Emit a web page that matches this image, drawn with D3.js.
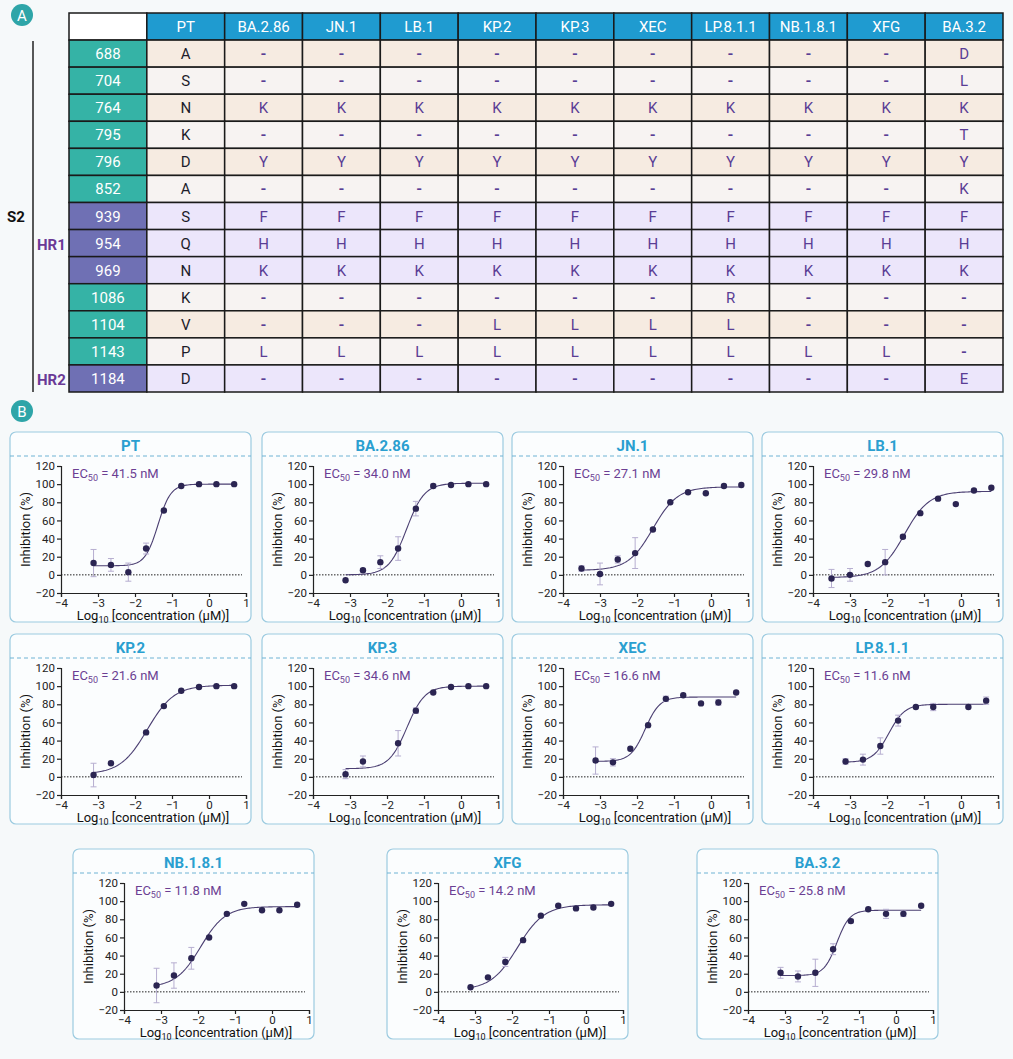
<!DOCTYPE html>
<html><head><meta charset="utf-8">
<script src="https://cdn.jsdelivr.net/npm/d3@7"></script>
<style>body{margin:0;background:#f6f9fa;font-family:Roboto,"Noto Sans",sans-serif}</style>
</head><body><svg id="fig" width="1013" height="1059"></svg>
<script>
// table data
const variants = ['PT','BA.2.86','JN.1','LB.1','KP.2','KP.3','XEC','LP.8.1.1','NB.1.8.1','XFG','BA.3.2'];
const positions = ['688','704','764','795','796','852','939','954','969','1086','1104','1143','1184'];
const hrRows = ['939','954','969','1184'];
const residues = [
  ['A','-','-','-','-','-','-','-','-','-','D'],
  ['S','-','-','-','-','-','-','-','-','-','L'],
  ['N','K','K','K','K','K','K','K','K','K','K'],
  ['K','-','-','-','-','-','-','-','-','-','T'],
  ['D','Y','Y','Y','Y','Y','Y','Y','Y','Y','Y'],
  ['A','-','-','-','-','-','-','-','-','-','K'],
  ['S','F','F','F','F','F','F','F','F','F','F'],
  ['Q','H','H','H','H','H','H','H','H','H','H'],
  ['N','K','K','K','K','K','K','K','K','K','K'],
  ['K','-','-','-','-','-','-','R','-','-','-'],
  ['V','-','-','-','L','L','L','L','-','-','-'],
  ['P','L','L','L','L','L','L','L','L','L','-'],
  ['D','-','-','-','-','-','-','-','-','-','E']
];

// inhibition data
const xStd = [-3.12,-2.65,-2.18,-1.7,-1.22,-0.75,-0.27,0.2,0.68];
const xLong = [-3.5,-3.0,-2.52,-2.05,-1.57,-1.1,-0.62,-0.14,0.35,0.82];
const xNo3 = [-3.12,-2.65,-1.7,-1.22,-0.75,-0.27,0.2,0.68];
const xLP = [-3.12,-2.65,-2.18,-1.7,-1.22,-0.75,0.2,0.68];
const panelNames = ['PT','BA.2.86','JN.1','LB.1','KP.2','KP.3','XEC','LP.8.1.1','NB.1.8.1','XFG','BA.3.2'];
const ec50Labels = ['41.5','34.0','27.1','29.8','21.6','34.6','16.6','11.6','11.8','14.2','25.8'];
const panelX = [xStd,xStd,xLong,xLong,xNo3,xNo3,xStd,xLP,xStd,xStd,xStd];
const panelY = [
  [13,11,3,29,71,98,100,100,100],
  [-6,5,14,29,73,98,99,100,100],
  [7,1,17,24,50,80,91,90,98,99],
  [-4,0,12,14,42,68,84,78,93,96],
  [2,15,49,78,95,99,100,100],
  [3,17,37,73,93,99,100,100],
  [18,16,31,57,86,90,81,82,93],
  [17,19,34,62,77,77,77,84],
  [7,18,37,60,86,97,90,90,96],
  [5,16,33,57,84,95,92,93,97],
  [21,17,21,47,78,91,86,86,95]
];
const panelErr = [
  [15,7,10,6,0,0,0,0,0],
  [0,2,7,13,8,2,1,0,0],
  [3,12,4,17,0,0,0,0,0,0],
  [10,7,0,14,2,0,0,0,0,0],
  [13,0,0,0,0,0,0,0],
  [5,6,14,3,0,0,0,0],
  [15,4,0,0,3,0,0,3,0],
  [3,6,9,6,0,4,0,4],
  [19,14,12,0,0,0,0,0,0],
  [0,0,5,0,0,0,0,0,0],
  [6,6,15,6,2,0,5,3,0]
];
// 4PL fit parameters: bottom, top, logEC50, hill
const fitBottom = [10,0,5,-3,3,9,17,16,5,2,18];
const fitTop = [100,101,97,92,101,100,88,80,94,96,90];
const fitLogEC = [-1.38,-1.47,-1.57,-1.53,-1.67,-1.46,-1.78,-1.95,-1.93,-1.85,-1.6];
const fitHill = [2.5,1.8,1.3,1.3,1.2,1.8,2.2,2.0,1.3,1.2,2.5];

const svg = d3.select('#fig');
const dark = '#1d1d2b', purple = '#5a3d95';

// ---- panel A: table
const tx = d3.scaleBand().domain(d3.range(12)).range([69,1003]);
const ty = d3.scaleBand().domain(d3.range(14)).range([13,392]);
const tg = svg.append('g');
for (let r = 0; r < 14; r++) {
  for (let c = 0; c < 12; c++) {
    let fill, txt = '', col = dark;
    if (r === 0) {
      fill = c === 0 ? '#ffffff' : '#1f9bd0';
      txt = c === 0 ? '' : variants[c-1]; col = '#fff';
    } else {
      const pos = positions[r-1], hr = hrRows.includes(pos);
      if (c === 0) { fill = hr ? '#6f70b4' : '#35b3a6'; txt = pos; col = '#fff'; }
      else {
        fill = hr ? '#ece6fb' : (r % 2 ? '#f6ebe1' : '#f7f3f2');
        txt = residues[r-1][c-1];
        col = c === 1 ? dark : purple;
      }
    }
    tg.append('rect').attr('x', tx(c)).attr('y', ty(r)).attr('width', tx.bandwidth()).attr('height', ty.bandwidth())
      .attr('fill', fill).attr('stroke', '#1a1a1a').attr('stroke-width', 1.5);
    tg.append('text').attr('x', tx(c) + tx.bandwidth()/2).attr('y', ty(r) + ty.bandwidth()/2 + 5.5)
      .attr('text-anchor', 'middle').attr('font-size', 15).attr('fill', col)
      .attr('font-weight', (r > 0 && c > 1 && txt === '-') ? 700 : 400).text(txt);
  }
}
function badge(x, y, t) {
  svg.append('circle').attr('cx', x).attr('cy', y).attr('r', 11).attr('fill', '#2ea5a8');
  svg.append('text').attr('x', x).attr('y', y + 5.5).attr('text-anchor', 'middle').attr('fill', '#fff').attr('font-size', 15).text(t);
}
badge(22, 15, 'A');
svg.append('line').attr('x1', 33).attr('x2', 33).attr('y1', 41).attr('y2', 392).attr('stroke', '#222').attr('stroke-width', 1.5);
svg.append('text').attr('x', 7).attr('y', 222).attr('font-size', 15).attr('font-weight', 700).attr('fill', '#111').text('S2');
svg.append('text').attr('x', 37).attr('y', 250).attr('font-size', 15).attr('font-weight', 700).attr('fill', '#6a3a96').text('HR1');
svg.append('text').attr('x', 37).attr('y', 385).attr('font-size', 15).attr('font-weight', 700).attr('fill', '#6a3a96').text('HR2');

// ---- panel B: curves
badge(22, 411, 'B');
const panelPos = [[10,432],[262,432],[512,432],[762,432],[10,634],[262,634],[512,634],[762,634],[73,849],[387,849],[697,849]];
const PW = 241, PH = 190;
panelNames.forEach((name, i) => {
  const g = svg.append('g').attr('transform', `translate(${panelPos[i][0]},${panelPos[i][1]})`);
  g.append('rect').attr('width', PW).attr('height', PH).attr('rx', 6).attr('fill', '#fbfdfe').attr('stroke', '#9ccbe0').attr('stroke-width', 1.2);
  g.append('text').attr('x', PW/2).attr('y', 19).attr('text-anchor', 'middle').attr('font-size', 15).attr('font-weight', 700).attr('fill', '#2a9fd0').text(name);
  g.append('line').attr('x1', 0).attr('x2', PW).attr('y1', 24).attr('y2', 24).attr('stroke', '#6fb3d4').attr('stroke-dasharray', '4,3');
  const x = d3.scaleLinear().domain([-4, 1]).range([51, 236]);
  const y = d3.scaleLinear().domain([-20, 120]).range([161, 34]);
  g.append('g').attr('transform', 'translate(0,161)').call(d3.axisBottom(x).ticks(5).tickSize(4).tickPadding(2).tickFormat(d3.format('d')))
    .call(a => a.selectAll('text').attr('font-size', 11.5).attr('fill', '#222').attr('font-family', 'Roboto'));
  g.append('g').attr('transform', 'translate(51,0)').call(d3.axisLeft(y).tickValues(d3.range(-20, 121, 20)).tickSize(4).tickPadding(2))
    .call(a => a.selectAll('text').attr('font-size', 11.5).attr('fill', '#222').attr('font-family', 'Roboto'));
  g.selectAll('.domain,.tick line').attr('stroke', '#222').attr('stroke-width', 1.2);
  g.append('line').attr('x1', 51).attr('x2', 232).attr('y1', y(0)).attr('y2', y(0)).attr('stroke', '#222').attr('stroke-dasharray', '1.5,1.5');
  const xl = g.append('text').attr('x', 143).attr('y', 188).attr('text-anchor', 'middle').attr('font-size', 13).attr('fill', '#111');
  xl.append('tspan').text('Log');
  xl.append('tspan').attr('font-size', 9).attr('dy', 3).text('10');
  xl.append('tspan').attr('dy', -3).text(' [concentration (µM)]');
  g.append('text').attr('transform', `translate(20,${y(50)}) rotate(-90)`).attr('text-anchor', 'middle').attr('font-size', 13).attr('fill', '#111').text('Inhibition (%)');
  const et = g.append('text').attr('x', 62).attr('y', 46).attr('font-size', 13).attr('fill', '#6b3f93');
  et.append('tspan').text('EC');
  et.append('tspan').attr('font-size', 9).attr('dy', 3).text('50');
  et.append('tspan').attr('dy', -3).text(` = ${ec50Labels[i]} nM`);
  // fitted curve
  const xs = panelX[i];
  const f = v => fitBottom[i] + (fitTop[i] - fitBottom[i]) / (1 + Math.pow(10, (fitLogEC[i] - v) * fitHill[i]));
  const lo = xs[0], hi = xs[xs.length - 1];
  const cx = d3.range(0, 101).map(k => lo + (hi - lo) * k / 100);
  g.append('path').datum(cx).attr('fill', 'none').attr('stroke', '#4b3f72').attr('stroke-width', 1.1)
    .attr('d', d3.line().x(d => x(d)).y(d => y(f(d))));
  xs.forEach((xv, k) => {
    const yv = panelY[i][k], e = panelErr[i][k];
    if (e > 0) {
      g.append('line').attr('x1', x(xv)).attr('x2', x(xv)).attr('y1', y(yv - e)).attr('y2', y(yv + e)).attr('stroke', '#b6aed0');
      [yv - e, yv + e].forEach(v => g.append('line').attr('x1', x(xv) - 3).attr('x2', x(xv) + 3).attr('y1', y(v)).attr('y2', y(v)).attr('stroke', '#b6aed0'));
    }
    g.append('circle').attr('cx', x(xv)).attr('cy', y(yv)).attr('r', 3.2).attr('fill', '#2b2552');
  });
});
</script></body></html>
